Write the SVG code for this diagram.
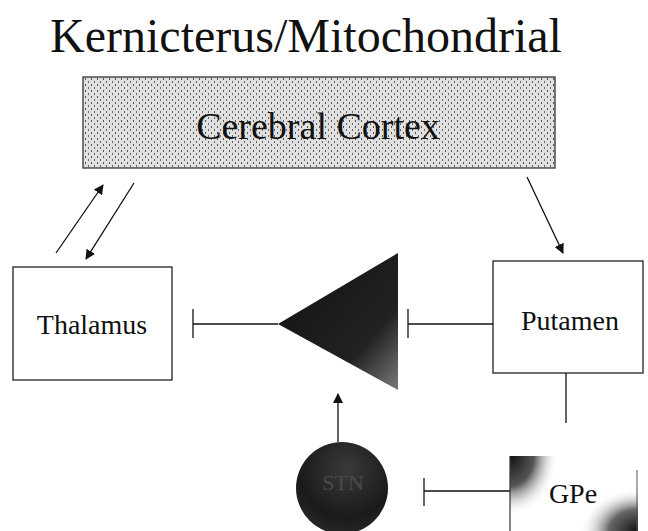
<svg xmlns="http://www.w3.org/2000/svg" width="648" height="531" viewBox="0 0 648 531">
<style>
.lbl{font-family:"Liberation Serif","Times New Roman",serif;fill:#111;}
.box{fill:#fff;stroke:#222;stroke-width:1.3;}
.ln{stroke:#111;stroke-width:1.3;fill:none;}
</style>
<defs>
<pattern id="dots" width="6" height="6" patternUnits="userSpaceOnUse">
<rect width="6" height="6" fill="#e0e0e0"/>
<rect x="1" y="0" width="1" height="2" fill="#555"/>
<rect x="4" y="3" width="1" height="2" fill="#666"/>
</pattern>
<linearGradient id="tri" x1="0" y1="0" x2="1" y2="1">
<stop offset="0" stop-color="#111"/>
<stop offset="0.7" stop-color="#222"/>
<stop offset="1" stop-color="#7a7a7a"/>
</linearGradient>
<radialGradient id="circ" cx="0.55" cy="0.3" r="0.75">
<stop offset="0" stop-color="#3a3a3a"/>
<stop offset="0.7" stop-color="#1a1a1a"/>
<stop offset="1" stop-color="#2a2a2a"/>
</radialGradient>
<radialGradient id="gpeTL" cx="0" cy="0" r="1">
<stop offset="0" stop-color="#111"/>
<stop offset="0.5" stop-color="#555"/>
<stop offset="1" stop-color="#fff" stop-opacity="0"/>
</radialGradient>
<radialGradient id="gpeBR" cx="1" cy="1" r="1">
<stop offset="0" stop-color="#111"/>
<stop offset="0.5" stop-color="#666"/>
<stop offset="1" stop-color="#fff" stop-opacity="0"/>
</radialGradient>
<marker id="arr" viewBox="0 0 10 10" refX="9" refY="5" markerWidth="10" markerHeight="10" markerUnits="userSpaceOnUse" orient="auto">
<path d="M0,0 L10,5 L0,10 Z" fill="#111"/>
</marker>
</defs>
<rect width="648" height="531" fill="#fff"/>
<text class="lbl" x="306" y="52" font-size="48" text-anchor="middle">Kernicterus/Mitochondrial</text>
<g id="cortex">
<rect x="83" y="77" width="472" height="91" fill="url(#dots)" stroke="#333" stroke-width="1.3"/>
<text class="lbl" x="318" y="139" font-size="38" text-anchor="middle">Cerebral Cortex</text>
</g>
<g id="thalamus">
<rect class="box" x="13" y="267" width="159" height="113"/>
<text class="lbl" x="92" y="334" font-size="28" text-anchor="middle">Thalamus</text>
</g>
<g id="putamen">
<rect class="box" x="493" y="261" width="150" height="112"/>
<text class="lbl" x="570" y="330" font-size="28" text-anchor="middle">Putamen</text>
</g>
<g id="triangle">
<polygon points="278,324 398,253 398,390" fill="url(#tri)"/>
</g>
<g id="circle">
<circle cx="342" cy="488" r="46" fill="url(#circ)"/>
<text class="lbl" x="343" y="490" font-size="22" text-anchor="middle" style="fill:#4a4a4a">STN</text>
</g>
<g id="gpe">
<rect x="510" y="456" width="128" height="80" fill="#fff"/>
<rect x="510" y="456" width="48" height="60" fill="url(#gpeTL)"/>
<rect x="580" y="488" width="58" height="43" fill="url(#gpeBR)"/>
<line x1="510" y1="456" x2="510" y2="531" stroke="#333" stroke-width="1.2"/>
<line x1="637" y1="470" x2="637" y2="531" stroke="#555" stroke-width="1"/>
<text class="lbl" x="573" y="503" font-size="28" text-anchor="middle">GPe</text>
</g>
<g id="connectors">
<line class="ln" x1="56" y1="253" x2="103" y2="185" marker-end="url(#arr)"/>
<line class="ln" x1="134" y1="183" x2="86" y2="259" marker-end="url(#arr)"/>
<line class="ln" x1="527" y1="177" x2="563" y2="253" marker-end="url(#arr)"/>
<line class="ln" x1="278" y1="324" x2="193" y2="324"/>
<line class="ln" x1="193" y1="309" x2="193" y2="338"/>
<line class="ln" x1="493" y1="324" x2="408" y2="324"/>
<line class="ln" x1="408" y1="309" x2="408" y2="338"/>
<line class="ln" x1="566" y1="373" x2="566" y2="423"/>
<line class="ln" x1="338" y1="442" x2="338" y2="394" marker-end="url(#arr)"/>
<line class="ln" x1="510" y1="491" x2="424" y2="491"/>
<line class="ln" x1="424" y1="478" x2="424" y2="506"/>
</g>
</svg>
